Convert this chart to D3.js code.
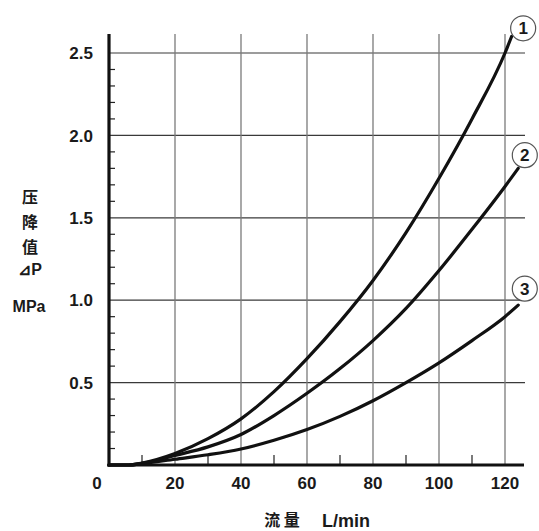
<!DOCTYPE html>
<html>
<head>
<meta charset="utf-8">
<script src="https://cdn.jsdelivr.net/npm/d3@7"></script>
<style>
html,body{margin:0;padding:0;background:#fff;}
svg{display:block;}
text{font-family:"Liberation Sans",Arial,sans-serif;font-weight:bold;fill:#1a1a1a;}
</style>
</head>
<body>
<svg id="chart" width="539" height="531"></svg>
<script>
// ---- data ----
const xTicks = [0, 20, 40, 60, 80, 100, 120];
const xMinorTicks = [10, 30, 50, 70, 90, 110];
const yTicks = [0.5, 1.0, 1.5, 2.0, 2.5];
const yTickLabels = ["0.5", "1.0", "1.5", "2.0", "2.5"];
const yMinorTicks = [0.1,0.2,0.3,0.4,0.6,0.7,0.8,0.9,1.1,1.2,1.3,1.4,1.6,1.7,1.8,1.9,2.1,2.2,2.3,2.4];
const seriesNames = ["1", "2", "3"];
const flow1 = [0, 6, 10, 20, 30, 40, 50, 60, 70, 80, 90, 100, 110, 120, 122];
const dp1   = [0, 0, 0.012, 0.07, 0.16, 0.28, 0.445, 0.645, 0.87, 1.12, 1.41, 1.74, 2.1, 2.5, 2.6];
const flow2 = [0, 6, 10, 20, 30, 40, 50, 60, 70, 80, 90, 100, 110, 120, 124];
const dp2   = [0, 0, 0.01, 0.058, 0.11, 0.185, 0.3, 0.435, 0.585, 0.755, 0.95, 1.18, 1.43, 1.69, 1.8];
const flow3 = [0, 6, 10, 20, 30, 40, 50, 60, 70, 80, 90, 100, 110, 120, 124];
const dp3   = [0, 0, 0.008, 0.035, 0.062, 0.097, 0.15, 0.215, 0.295, 0.39, 0.5, 0.62, 0.755, 0.9, 0.97];
const yTitleLines = ["压", "降", "值", "⊿P"];
const yUnit = "MPa";
const xTitleCn = "流 量";
const xTitleUnit = "L/min";

// ---- layout ----
const svg = d3.select("#chart");
const x = d3.scaleLinear().domain([0, 120]).range([109, 505]);
const y = d3.scaleLinear().domain([0, 2.5]).range([465, 53]);
const topY = 34, rightX = 525;

// horizontal gridlines
svg.append("g").selectAll("line").data(yTicks).join("line")
  .attr("x1", x(0)).attr("x2", rightX)
  .attr("y1", d => y(d)).attr("y2", d => y(d))
  .attr("stroke", "#3a3a3a").attr("stroke-width", 1.2);

// vertical gridlines
svg.append("g").selectAll("line").data(xTicks.filter(d => d > 0)).join("line")
  .attr("x1", d => x(d)).attr("x2", d => x(d))
  .attr("y1", topY).attr("y2", y(0))
  .attr("stroke", "#7a7a7a").attr("stroke-width", 1.3);

// y axis minor ticks (inward)
svg.append("g").selectAll("line").data(yMinorTicks).join("line")
  .attr("x1", x(0)).attr("x2", x(0) + 6)
  .attr("y1", d => y(d)).attr("y2", d => y(d))
  .attr("stroke", "#222").attr("stroke-width", 1.2);

// x axis minor ticks (upward)
svg.append("g").selectAll("line").data(xMinorTicks).join("line")
  .attr("x1", d => x(d)).attr("x2", d => x(d))
  .attr("y1", y(0)).attr("y2", y(0) - 10)
  .attr("stroke", "#222").attr("stroke-width", 1.2);

// curves
const line = d3.line().x(d => x(d[0])).y(d => y(d[1])).curve(d3.curveMonotoneX);
const series = [
  {name: seriesNames[0], f: flow1, p: dp1, lx: 125.5, ly: 2.65},
  {name: seriesNames[1], f: flow2, p: dp2, lx: 126, ly: 1.88},
  {name: seriesNames[2], f: flow3, p: dp3, lx: 126, ly: 1.07}
];
series.forEach(s => {
  svg.append("path")
    .attr("d", line(s.f.map((v, i) => [v, s.p[i]])))
    .attr("fill", "none").attr("stroke", "#111").attr("stroke-width", 3.2)
    .attr("stroke-linecap", "round");
});

// axes (thick)
svg.append("line").attr("x1", x(0)).attr("x2", x(0)).attr("y1", topY).attr("y2", y(0) + 1.5)
  .attr("stroke", "#111").attr("stroke-width", 3.2);
svg.append("line").attr("x1", x(0) - 1.5).attr("x2", 524).attr("y1", y(0)).attr("y2", y(0))
  .attr("stroke", "#111").attr("stroke-width", 3.2);

// circle labels
series.forEach(s => {
  const g = svg.append("g").attr("transform", `translate(${x(s.lx)},${y(s.ly)})`);
  g.append("circle").attr("r", 12.5).attr("fill", "#fff").attr("stroke", "#555").attr("stroke-width", 1.2);
  g.append("text").attr("text-anchor", "middle").attr("dy", "0.36em")
    .style("font-size", "17px").text(s.name);
});

// y tick labels
svg.append("g").selectAll("text").data(yTicks).join("text")
  .attr("x", 93).attr("y", d => y(d)).attr("dy", "0.36em")
  .attr("text-anchor", "end").style("font-size", "17px")
  .text((d, i) => yTickLabels[i]);

// x tick labels
svg.append("g").selectAll("text").data(xTicks).join("text")
  .attr("x", d => d === 0 ? 97 : x(d)).attr("y", 489)
  .attr("text-anchor", "middle").style("font-size", "17px")
  .text(d => d);

// y title
const yCenters = [197, 222, 247, 269];
yTitleLines.forEach((t, i) => {
  svg.append("text").attr("x", 30).attr("y", yCenters[i]).attr("dy", "0.36em")
    .attr("text-anchor", "middle")
    .style("font-family", i < 3 ? "'Noto Sans CJK SC',sans-serif" : "'Liberation Sans',Arial,sans-serif")
    .style("font-size", "16px")
    .text(t);
});
svg.append("text").attr("x", 29).attr("y", 312).attr("text-anchor", "middle")
  .style("font-size", "16px").text(yUnit);

// x title
svg.append("text").attr("x", 282).attr("y", 526).attr("text-anchor", "middle")
  .style("font-family", "'Noto Sans CJK SC',sans-serif").style("font-size", "16px").text(xTitleCn);
svg.append("text").attr("x", 322).attr("y", 527).attr("text-anchor", "start")
  .style("font-size", "18px").text(xTitleUnit);
</script>
</body>
</html>
